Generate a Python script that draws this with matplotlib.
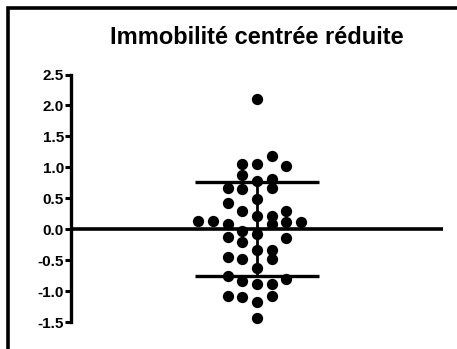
"""
Dot plot of standardized immobility scores with mean / SD lines.
"""

import matplotlib
matplotlib.use("Agg")
import matplotlib.pyplot as plt
from matplotlib.patches import Rectangle

plt.rcParams['font.family'] = ['Liberation Sans', 'DejaVu Sans']

# values, with the swarm column each dot sits in
values = [2.10, 1.18, 1.06, 1.06, 1.02, 0.87, 0.81, 0.78, 0.67, 0.65, 0.67,
          0.49, 0.42, 0.29, 0.29, 0.22, 0.22, 0.14, 0.13, 0.09, 0.09, 0.12,
          0.12, -0.03, -0.08, -0.13, -0.15, -0.20, -0.34, -0.34, -0.45,
          -0.48, -0.48, -0.63, -0.76, -0.80, -0.83, -0.88, -0.88, -1.08,
          -1.10, -1.08, -1.17, -1.44]
columns = [0, 1, -1, 0, 2, -1, 1, 0, -2, -1, 1,
           0, -2, -1, 2, 0, 1, -4, -3, -2, 1, 2,
           3, -1, 0, -2, 2, -1, 0, 1, -2,
           -1, 1, 0, -2, 2, -1, 0, 1, -2,
           -1, 1, 0, 0]
mean_value = 0.0
sd_value = 0.76
yticks = [-1.5, -1.0, -0.5, 0.0, 0.5, 1.0, 1.5, 2.0, 2.5]
title = "Immobilité centrée réduite"

W, H = 457, 349
fig = plt.figure(figsize=(W / 100, H / 100), dpi=100)

# outer frame (runs off the right and bottom edges like the source)
fig.patches.append(Rectangle((8 / W, -0.1), 1.2, 1.1 - 8 / H,
                             transform=fig.transFigure, fill=False,
                             edgecolor="black", linewidth=2.6))

ax = fig.add_axes([71 / W, (H - 322) / H, (443 - 71) / W, (322 - 74.5) / H])
ax.set_xlim(-12.65, 12.65)
ax.set_ylim(-1.5, 2.5)

ax.scatter(columns, values, s=66, color="black", zorder=3, clip_on=False,
           linewidths=0)

# mean line across the axis, SD bars around the centre
ax.axhline(mean_value, color="black", linewidth=2.6, zorder=2)
for v in (mean_value - sd_value, mean_value + sd_value):
    ax.plot([-4.2, 4.2], [v, v], color="black", linewidth=2.4, zorder=2,
            solid_capstyle="butt")
ax.plot([0, 0], [mean_value - sd_value, mean_value + sd_value],
        color="black", linewidth=2.0, zorder=2)

for side in ("top", "right", "bottom"):
    ax.spines[side].set_visible(False)
ax.spines["left"].set_linewidth(2.4)
ax.spines["left"].set_bounds(-1.5, 2.5)
ax.set_xticks([])
ax.set_yticks(yticks)
ax.set_yticklabels(["%.1f" % t for t in yticks], fontweight="bold",
                   fontsize=11)
ax.tick_params(axis="y", length=4.5, width=2.2, pad=0.5)
ax.patch.set_visible(False)

fig.text(257 / W, 1 - 38 / H, title, ha="center", va="center",
         fontsize=17, fontweight="bold")

fig.savefig("out.png", dpi=100)
